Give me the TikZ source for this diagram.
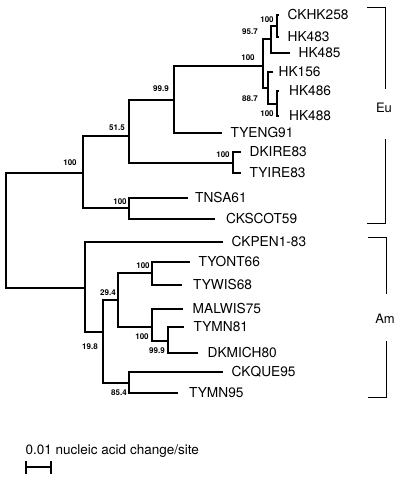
\documentclass[tikz,border=0pt]{standalone}
\usepackage{fontspec}
\setmainfont{TeX Gyre Heros}
\begin{document}
\begin{tikzpicture}[x=1pt,y=-1pt,
  branch/.style={line width=2.5pt,line join=miter},
  thinline/.style={line width=0.9pt},
  leaf/.style={anchor=west,inner xsep=8.5pt,inner ysep=0pt,font=\fontsize{13.7}{16}\selectfont},
  boot/.style={inner sep=0pt,font=\fontsize{8}{9}\bfseries\selectfont},
  clade/.style={inner sep=0pt,font=\fontsize{13}{15}\selectfont}]
\useasboundingbox (0,0) rectangle (401,477);
% internal nodes
\coordinate (root) at (6,230);
\coordinate (A) at (83,173);
\coordinate (B) at (129,136);
\coordinate (C) at (174,100);
\coordinate (D) at (263,66);
\coordinate (E) at (271,39);
\coordinate (F) at (277,26);
\coordinate (G) at (268,88);
\coordinate (H) at (277,104);
\coordinate (I) at (233,163);
\coordinate (J) at (129,208);
\coordinate (K) at (85,288);
\coordinate (L) at (103,332);
\coordinate (M) at (118,300);
\coordinate (N) at (152,273);
\coordinate (O) at (152,327);
\coordinate (P) at (168,341);
\coordinate (Q) at (129,383);
% leaves
\node[leaf] (ckhk258) at (279,15) {CKHK258};
\node[leaf] (hk483) at (279,37) {HK483};
\node[leaf] (hk485) at (290,53) {HK485};
\node[leaf,inner xsep=5.5pt] (hk156) at (273,72) {HK156};
\node[leaf,inner xsep=10pt] (hk486) at (279,91) {HK486};
\node[leaf,inner xsep=10pt] (hk488) at (279,116) {HK488};
\node[leaf] (tyeng91) at (222,133) {TYENG91};
\node[leaf] (dkire83) at (241,152) {DKIRE83};
\node[leaf] (tyire83) at (241,173) {TYIRE83};
\node[leaf,inner xsep=7pt] (tnsa61) at (188,198) {TNSA61};
\node[leaf,inner xsep=11pt] (ckscot59) at (215,219) {CKSCOT59};
\node[leaf] (ckpen) at (223,242) {CKPEN1-83};
\node[leaf] (tyont66) at (190,262) {TYONT66};
\node[leaf,inner xsep=11pt] (tywis68) at (182,285) {TYWIS68};
\node[leaf,inner xsep=9.5pt] (malwis75) at (183,309) {MALWIS75};
\node[leaf,inner xsep=9.5pt] (tymn81) at (184,327) {TYMN81};
\node[leaf,inner xsep=9.5pt] (dkmich80) at (198,353) {DKMICH80};
\node[leaf] (ckque95) at (223,372) {CKQUE95};
\node[leaf,inner xsep=11pt] (tymn95) at (178,393) {TYMN95};
% branches
\draw[branch] (root) |- (A);
\draw[branch] (root) |- (K);
\draw[branch] (A) |- (B);
\draw[branch] (A) |- (J);
\draw[branch] (B) |- (C);
\draw[branch] (B) |- (I);
\draw[branch] (C) |- (D);
\draw[branch] (C) |- (tyeng91.west);
\draw[branch] (D) |- (E);
\draw[branch] (D) |- (G);
\draw[branch] (E) |- (F);
\draw[branch] (E) |- (hk485.west);
\draw[branch] (F) |- (ckhk258.west);
\draw[branch] (F) |- (hk483.west);
\draw[branch] (G) |- (hk156.west);
\draw[branch] (G) |- (H);
\draw[branch] (H) |- (hk486.west);
\draw[branch] (H) |- (hk488.west);
\draw[branch] (I) |- (dkire83.west);
\draw[branch] (I) |- (tyire83.west);
\draw[branch] (J) |- (tnsa61.west);
\draw[branch] (J) |- (ckscot59.west);
\draw[branch] (K) |- (ckpen.west);
\draw[branch] (K) |- (L);
\draw[branch] (L) |- (M);
\draw[branch] (L) |- (Q);
\draw[branch] (M) |- (N);
\draw[branch] (M) |- (O);
\draw[branch] (N) |- (tyont66.west);
\draw[branch] (N) |- (tywis68.west);
\draw[branch] (O) |- (malwis75.west);
\draw[branch] (O) |- (P);
\draw[branch] (P) |- (tymn81.west);
\draw[branch] (P) |- (dkmich80.west);
\draw[branch] (Q) |- (ckque95.west);
\draw[branch] (Q) |- (tymn95.west);
% bootstrap values
\node[boot] (bF) at (267,20) {100};
\node[boot] (bE) at (250,32) {95.7};
\node[boot] (bD) at (248,58) {100};
\node[boot] (bG) at (250,99) {88.7};
\node[boot] (bH) at (267,114) {100};
\node[boot] (bC) at (161,89) {99.9};
\node[boot] (bB) at (117,128) {51.5};
\node[boot] (bA) at (70,163) {100};
\node[boot] (bI) at (223,155) {100};
\node[boot] (bJ) at (120,202) {100};
\node[boot] (bM) at (108,293) {29.4};
\node[boot] (bN) at (143,266) {100};
\node[boot] (bO) at (142,337) {100};
\node[boot] (bP) at (157,351) {99.9};
\node[boot] (bL) at (90,347) {19.8};
\node[boot] (bQ) at (119,393) {85.4};
% clade brackets
\node[clade] (eu) at (384,108) {Eu};
\node[clade] (am) at (385,319) {Am};
\coordinate (eu1) at (367,7);
\coordinate (eu2) at (385,89);
\coordinate (eu3) at (385,139);
\coordinate (eu4) at (367,223);
\coordinate (am1) at (368,237);
\coordinate (am2) at (386,294);
\coordinate (am3) at (386,341);
\coordinate (am4) at (368,397);
\draw[thinline] (eu1) -| (eu2);
\draw[thinline] (eu3) |- (eu4);
\draw[thinline] (am1) -| (am2);
\draw[thinline] (am3) |- (am4);
% scale bar
\node[anchor=west,inner sep=0pt,font=\fontsize{13.5}{16}\selectfont] (scaletxt) at (25.5,451) {0.01 nucleic acid change/site};
\coordinate (s1) at (26,467);
\coordinate (s2) at (51,467);
\draw[branch] (s1) -- (s2);
\draw[branch] ([yshift=-6.5pt]s1) -- ([yshift=6.5pt]s1);
\draw[branch] ([yshift=-6.5pt]s2) -- ([yshift=6.5pt]s2);
\end{tikzpicture}
\end{document}
